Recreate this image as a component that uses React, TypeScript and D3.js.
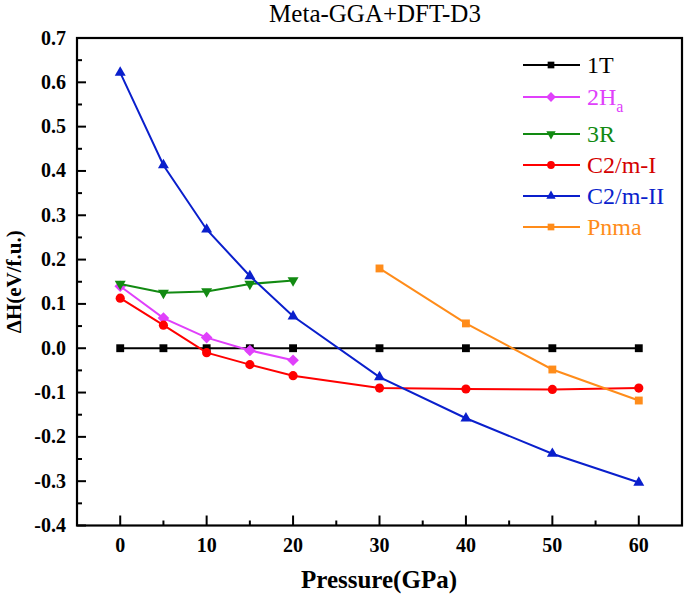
import React from "react";
import * as d3 from "d3";

const pressures = [0, 5, 10, 15, 20, 30, 40, 50, 60];
const lowPressures = [0, 5, 10, 15, 20];
const pnmaPressures = [30, 40, 50, 60];

const t1Values = [0, 0, 0, 0, 0, 0, 0, 0, 0];
const h2aValues = [0.14, 0.068, 0.024, -0.005, -0.027];
const r3Values = [0.145, 0.125, 0.128, 0.145, 0.153];
const c2m1Values = [0.113, 0.052, -0.01, -0.037, -0.062, -0.09, -0.092, -0.093, -0.09];
const c2m2Values = [0.622, 0.413, 0.268, 0.163, 0.072, -0.065, -0.158, -0.238, -0.303];
const pnmaValues = [0.18, 0.056, -0.048, -0.118];

const xTicks = [0, 10, 20, 30, 40, 50, 60];
const xMinorTicks = [-5, 5, 15, 25, 35, 45, 55, 65];
const yTicks = [0.7, 0.6, 0.5, 0.4, 0.3, 0.2, 0.1, 0.0, -0.1, -0.2, -0.3, -0.4];
const yMinorTicks = [0.65, 0.55, 0.45, 0.35, 0.25, 0.15, 0.05, -0.05, -0.15, -0.25, -0.35];

type Series = {
  name: string;
  sub?: string;
  xs: number[];
  ys: number[];
  color: string;
  textColor: string;
  marker: "square" | "diamond" | "triDown" | "circle" | "triUp";
};

const series: Series[] = [
  { name: "1T", xs: pressures, ys: t1Values, color: "#000000", textColor: "#000000", marker: "square" },
  { name: "2H", sub: "a", xs: lowPressures, ys: h2aValues, color: "#e040fb", textColor: "#e040fb", marker: "diamond" },
  { name: "3R", xs: lowPressures, ys: r3Values, color: "#128a12", textColor: "#128a12", marker: "triDown" },
  { name: "C2/m-I", xs: pressures, ys: c2m1Values, color: "#ff0000", textColor: "#d40000", marker: "circle" },
  { name: "C2/m-II", xs: pressures, ys: c2m2Values, color: "#0a1fcc", textColor: "#0a1fcc", marker: "triUp" },
  { name: "Pnma", xs: pnmaPressures, ys: pnmaValues, color: "#ff8c1a", textColor: "#ff8c1a", marker: "square" },
];

const W = 685;
const H = 594;
const left = 77;
const right = 682;
const top = 38;
const bottom = 525.5;

const x = d3.scaleLinear().domain([-5, 65]).range([left, right]);
const y = d3.scaleLinear().domain([-0.4, 0.7]).range([bottom, top]);

function markerPath(m: Series["marker"], big: boolean): string {
  const s = big ? 1 : 0.85;
  switch (m) {
    case "square":
      return d3.symbol().type(d3.symbolSquare).size(62 * s * s)()!;
    case "circle":
      return d3.symbol().type(d3.symbolCircle).size(66 * s * s)()!;
    case "triUp":
      return d3.symbol().type(d3.symbolTriangle).size(52 * s * s)()!;
    case "triDown":
      return d3.symbol().type(d3.symbolTriangle).size(52 * s * s)()!;
    case "diamond": {
      const r = 5.8 * s;
      return `M0,${-r}L${r},0L0,${r}L${-r},0Z`;
    }
  }
}

const legendRows = [65, 97, 134, 165, 196, 227];
const SERIF = '"Liberation Serif", "Times New Roman", Times, "DejaVu Serif", serif';

export default function App() {
  const line = d3
    .line<[number, number]>()
    .x((d) => x(d[0]))
    .y((d) => y(d[1]));
  const tf = (size: number, bold = false): React.CSSProperties => ({
    fontFamily: SERIF,
    fontSize: size + "px",
    fontWeight: bold ? 700 : 400,
  });

  return (
    <svg width={W} height={H} style={{ position: "absolute", left: 0, top: 0 }}>
      <rect x={0} y={0} width={W} height={H} fill="#fff" />
      <text x={375} y={22} textAnchor="middle" style={tf(25)} fill="#000">
        Meta-GGA+DFT-D3
      </text>

      {series.map((s) => {
        const pts = s.xs.map((xv, i) => [xv, s.ys[i]] as [number, number]);
        return (
          <g key={s.name}>
            <path d={line(pts)!} fill="none" stroke={s.color} strokeWidth={2} />
            {pts.map((p, i) => (
              <path
                key={i}
                d={markerPath(s.marker, true)}
                transform={`translate(${x(p[0])},${y(p[1])})${s.marker === "triDown" ? " rotate(180)" : ""}`}
                fill={s.color}
              />
            ))}
          </g>
        );
      })}

      <rect x={left} y={top} width={right - left} height={bottom - top} fill="none" stroke="#000" strokeWidth={2.2} />

      {xTicks.map((t) => (
        <g key={"xt" + t}>
          <line x1={x(t)} x2={x(t)} y1={bottom} y2={bottom - 10} stroke="#000" strokeWidth={2} />
          <text x={x(t)} y={552} textAnchor="middle" style={tf(20, true)}>
            {t}
          </text>
        </g>
      ))}
      {xMinorTicks.map((t) => (
        <line key={"xm" + t} x1={x(t)} x2={x(t)} y1={bottom} y2={bottom - 5} stroke="#000" strokeWidth={2} />
      ))}

      {yTicks.map((t) => (
        <g key={"yt" + t}>
          <line x1={left} x2={left + 9} y1={y(t)} y2={y(t)} stroke="#000" strokeWidth={2} />
          <text x={66} y={y(t) + 6.5} textAnchor="end" style={tf(20, true)}>
            {t.toFixed(1)}
          </text>
        </g>
      ))}
      {yMinorTicks.map((t) => (
        <line key={"ym" + t} x1={left} x2={left + 5} y1={y(t)} y2={y(t)} stroke="#000" strokeWidth={2} />
      ))}

      <text x={379} y={588} textAnchor="middle" style={tf(25, true)}>
        Pressure(GPa)
      </text>
      <text
        transform={`translate(21,${(top + bottom) / 2}) rotate(-90)`}
        textAnchor="middle"
        style={tf(21, true)}
      >
        ΔH(eV/f.u.)
      </text>

      {series.map((s, i) => {
        const ly = legendRows[i];
        return (
          <g key={"lg" + s.name}>
            <line x1={523} x2={580} y1={ly} y2={ly} stroke={s.color} strokeWidth={2} />
            <path
              d={markerPath(s.marker, false)}
              transform={`translate(551,${ly})${s.marker === "triDown" ? " rotate(180)" : ""}`}
              fill={s.color}
            />
            <text x={587} y={ly + 8} style={tf(24)} fill={s.textColor}>
              {s.name}
              {s.sub ? (
                <tspan dy={7} style={{ fontSize: "16px" }}>
                  {s.sub}
                </tspan>
              ) : null}
            </text>
          </g>
        );
      })}
    </svg>
  );
}
